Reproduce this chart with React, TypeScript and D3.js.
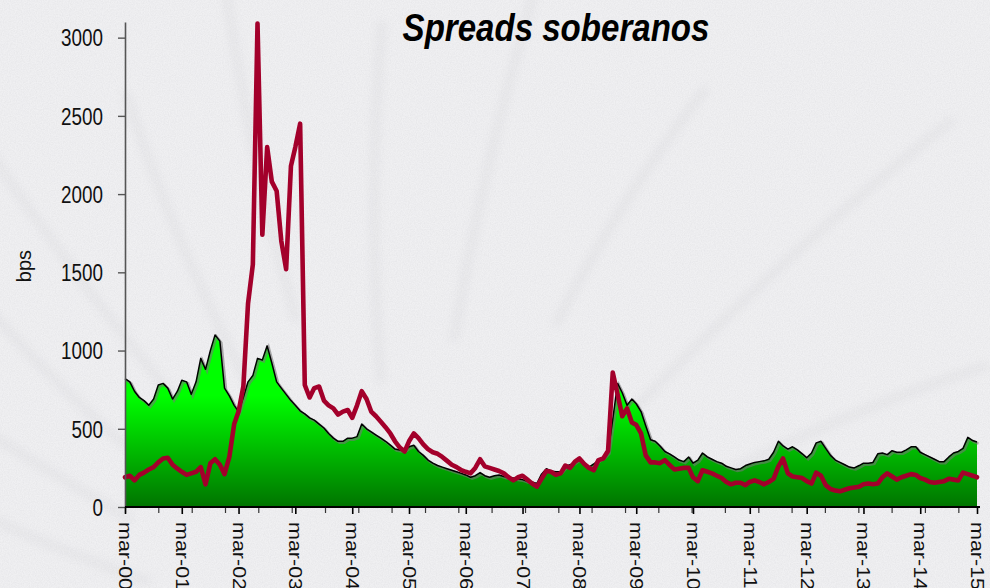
import * as d3 from "d3";
import { useEffect, useRef } from "react";

const W = 990;
const H = 588;

const startDate = new Date(2000, 2, 1);
const endDate = new Date(2015, 2, 1);
// monthly observations, mar-00 .. mar-15
const months = d3.timeMonth.range(startDate, new Date(2015, 2, 2));

const yTicks = [0, 500, 1000, 1500, 2000, 2500, 3000];
const tickYears = d3.range(2000, 2016);
const tickLabels = tickYears.map((yr) => `mar-${String(yr % 100).padStart(2, "0")}`);

// green area (black outline)
const embi = [
  820, 800, 740, 700, 680, 650, 690, 780, 790, 760, 690, 740,
  810, 800, 720, 800, 950, 880, 1000, 1100, 1060, 760, 710, 650,
  610, 700, 800, 840, 950, 940, 1030, 920, 800, 760, 720, 680,
  650, 615, 595, 570, 555, 530, 505, 470, 440, 420, 420, 440,
  440, 450, 530, 500, 480, 460, 440, 420, 395, 370, 365, 365,
  385, 395, 355, 330, 300, 280, 265, 255, 245, 235, 225, 215,
  205, 190, 200, 220, 200, 190, 200, 205, 195, 190, 185, 180,
  175, 165, 160, 150, 210, 245, 230, 225, 225, 260, 270, 290,
  310, 280, 255, 275, 300, 320, 350, 560, 790, 730, 650, 690,
  660, 610, 520, 430, 420, 390, 355, 340, 320, 300, 290, 320,
  280, 300, 345, 320, 305, 290, 280, 260, 250, 240, 245, 265,
  275, 285, 290, 295, 305, 350, 420, 390, 370, 385, 365, 340,
  315, 345, 410, 420, 375, 330, 300, 285, 270, 255, 250, 265,
  280, 280, 285, 340, 345, 335, 360, 350, 350, 365, 385, 385,
  350, 335, 320, 305, 290, 290, 320, 345, 355, 375, 445, 425, 415,
];

// red line
const pais = [
  190, 200, 170, 205, 220, 240, 255, 285, 310, 315, 270, 245,
  225, 205, 215, 225, 255, 145, 280, 305, 270, 210, 320, 530,
  610, 770, 1300, 1550, 3090, 1740, 2300, 2080, 2020, 1700, 1520, 2180,
  2300, 2450, 780, 700, 760, 770, 680, 650, 630, 590, 610, 620,
  570, 650, 740, 690, 610, 580, 545, 510, 470, 420, 380, 355,
  420, 470, 440, 400, 370, 350, 340, 320, 295, 270, 255, 235,
  225, 215, 250, 305, 260, 250, 240, 230, 215, 190, 170, 190,
  200, 175, 150, 130, 180, 230, 225, 205, 215, 265, 250, 290,
  310, 275, 250, 235, 300, 310, 360, 860, 720, 580, 630, 540,
  525, 470, 330, 285, 285, 280, 300, 270, 240, 245, 250, 250,
  190, 165, 235, 225, 215, 200, 185, 160, 145, 155, 155, 140,
  160, 170, 160, 145, 160, 180, 260, 310, 215, 195, 190, 185,
  165, 150, 220, 200, 140, 115, 105, 100, 110, 120, 125, 130,
  145, 150, 145, 150, 190, 215, 195, 175, 190, 200, 210, 205,
  185, 175, 160, 155, 160, 165, 180, 175, 170, 220, 210, 200, 190,
];

const FONT = "'Liberation Sans', Arial, sans-serif";

const App = () => {
  const ref = useRef<SVGSVGElement>(null);

  useEffect(() => {
    const svg = d3.select(ref.current);
    svg.selectAll("*").remove();

    const x = d3.scaleTime().domain([startDate, endDate]).range([125, 977]);
    const y = d3.scaleLinear().domain([0, 3100]).range([507, 22]);

    const defs = svg.append("defs");
    const grad = defs
      .append("linearGradient")
      .attr("id", "greenFill")
      .attr("gradientUnits", "userSpaceOnUse")
      .attr("x1", 0)
      .attr("x2", 0)
      .attr("y1", y(3100))
      .attr("y2", y(0));
    grad.append("stop").attr("offset", "0.77").attr("stop-color", "#00ff00");
    grad.append("stop").attr("offset", "1").attr("stop-color", "#007400");

    const paper = defs.append("filter").attr("id", "paper");
    paper
      .append("feTurbulence")
      .attr("type", "fractalNoise")
      .attr("baseFrequency", "0.85")
      .attr("numOctaves", 2)
      .attr("seed", 4);
    paper
      .append("feColorMatrix")
      .attr("type", "matrix")
      .attr("values", "0 0 0 0 0.55  0 0 0 0 0.55  0 0 0 0 0.58  0.35 0 0 0 -0.1");

    defs
      .append("filter")
      .attr("id", "soft")
      .attr("x", "-20%")
      .attr("y", "-20%")
      .attr("width", "140%")
      .attr("height", "140%")
      .append("feGaussianBlur")
      .attr("stdDeviation", 4);

    // background
    svg.append("rect").attr("width", W).attr("height", H).attr("fill", "#f0f0f2");
    svg.append("rect").attr("width", W).attr("height", H).attr("filter", "url(#paper)");

    // faint fan of grooves in the paper
    const rays = [196, 206, 216, 226, 238, 250, 262, 276, 292, 310, 328];
    const cx = 420;
    const cy = 660;
    svg
      .append("g")
      .attr("filter", "url(#soft)")
      .attr("opacity", 0.09)
      .selectAll("path")
      .data(rays)
      .enter()
      .append("path")
      .attr("d", (a, i) => {
        const r0 = 280 + (i % 3) * 40;
        const r1 = 640 + (i % 2) * 120;
        const t = (a * Math.PI) / 180;
        const bend = 0.08;
        const x0 = cx + r0 * Math.cos(t);
        const y0 = cy + r0 * Math.sin(t);
        const x1 = cx + r1 * Math.cos(t + bend);
        const y1 = cy + r1 * Math.sin(t + bend);
        const mx = cx + ((r0 + r1) / 2) * Math.cos(t + bend * 0.3);
        const my = cy + ((r0 + r1) / 2) * Math.sin(t + bend * 0.3);
        return `M${x0},${y0} Q${mx},${my} ${x1},${y1}`;
      })
      .attr("fill", "none")
      .attr("stroke", "#9a9aa2")
      .attr("stroke-width", 9);

    const series1 = months.map((d, i) => ({ date: d, value: embi[i] }));
    const series2 = months.map((d, i) => ({ date: d, value: pais[i] }));

    const area = d3
      .area<{ date: Date; value: number }>()
      .x((d) => x(d.date))
      .y0(y(0))
      .y1((d) => y(d.value));
    const line = d3
      .line<{ date: Date; value: number }>()
      .x((d) => x(d.date))
      .y((d) => y(d.value));

    svg.append("path").datum(series1).attr("d", area).attr("fill", "url(#greenFill)");
    svg
      .append("path")
      .datum(series1)
      .attr("d", line)
      .attr("fill", "none")
      .attr("stroke", "#777")
      .attr("stroke-opacity", 0.6)
      .attr("stroke-width", 2.5)
      .attr("transform", "translate(1.5,1.5)");
    svg
      .append("path")
      .datum(series1)
      .attr("d", line)
      .attr("fill", "none")
      .attr("stroke", "#000")
      .attr("stroke-width", 1.5)
      .attr("stroke-linejoin", "round");

    svg
      .append("path")
      .datum(series2)
      .attr("d", line)
      .attr("fill", "none")
      .attr("stroke", "#a3002b")
      .attr("stroke-width", 4.6)
      .attr("stroke-linejoin", "round")
      .attr("stroke-linecap", "round");

    // y axis
    const yAxis = svg
      .append("g")
      .attr("transform", "translate(125,0)")
      .call(
        d3
          .axisLeft(y)
          .tickValues(yTicks)
          .tickSize(7)
          .tickSizeOuter(0)
          .tickFormat(d3.format("d"))
      );
    yAxis.select(".domain").attr("stroke", "#555").attr("stroke-width", 1.6);
    yAxis.selectAll(".tick line").attr("stroke", "#555").attr("stroke-width", 1.4);
    yAxis
      .selectAll<SVGTextElement, number>(".tick text")
      .attr("font-family", FONT)
      .attr("font-size", 23)
      .attr("fill", "#111")
      .attr("x", 0)
      .attr("dy", "0.36em")
      .attr("text-anchor", "end")
      .attr("transform", "translate(-22,0) scale(0.82,1)");

    // x axis: minor ticks
    const minorDates = d3
      .range(0, 26)
      .map((k) => d3.timeDay.offset(startDate, Math.round(k * 214.3)))
      .filter((d) => d <= endDate);
    const xMinor = svg
      .append("g")
      .attr("transform", "translate(0,507)")
      .call(d3.axisBottom(x).tickValues(minorDates).tickSize(6).tickFormat(() => "").tickSizeOuter(0));
    xMinor.select(".domain").remove();
    xMinor.selectAll(".tick line").attr("stroke", "#333").attr("stroke-width", 1.2);

    // x axis: march labels
    const marchDates = tickYears.map((yr) => new Date(yr, 2, 1));
    const xAxis = svg
      .append("g")
      .attr("transform", "translate(0,507)")
      .call(
        d3
          .axisBottom(x)
          .tickValues(marchDates)
          .tickSize(7)
          .tickSizeOuter(0)
          .tickFormat((d, i) => tickLabels[i])
      );
    xAxis.select(".domain").attr("stroke", "#000").attr("stroke-width", 2).attr("d", "M125,0H980");
    xAxis.selectAll(".tick line").attr("stroke", "#000").attr("stroke-width", 1.6);
    xAxis
      .selectAll(".tick text")
      .attr("font-family", FONT)
      .attr("font-size", 21.5)
      .attr("fill", "#111")
      .attr("x", 0)
      .attr("y", 0)
      .attr("dy", "0.36em")
      .attr("text-anchor", "start")
      .attr("transform", "translate(0,15) scale(0.84,1) rotate(90)");

    // y title
    svg
      .append("text")
      .attr("transform", "translate(31,266) rotate(-90)")
      .attr("text-anchor", "middle")
      .attr("font-family", FONT)
      .attr("font-size", 20)
      .attr("fill", "#111")
      .text("bps");

    // chart title
    svg
      .append("text")
      .attr("transform", "translate(556,41) scale(0.87,1)")
      .attr("text-anchor", "middle")
      .attr("font-family", FONT)
      .attr("font-size", 38)
      .attr("font-weight", "bold")
      .attr("font-style", "italic")
      .attr("fill", "#000")
      .text("Spreads soberanos");
  }, []);

  return (
    <svg
      ref={ref}
      width={W}
      height={H}
      style={{ position: "absolute", left: 0, top: 0, display: "block" }}
    />
  );
};

export default App;
